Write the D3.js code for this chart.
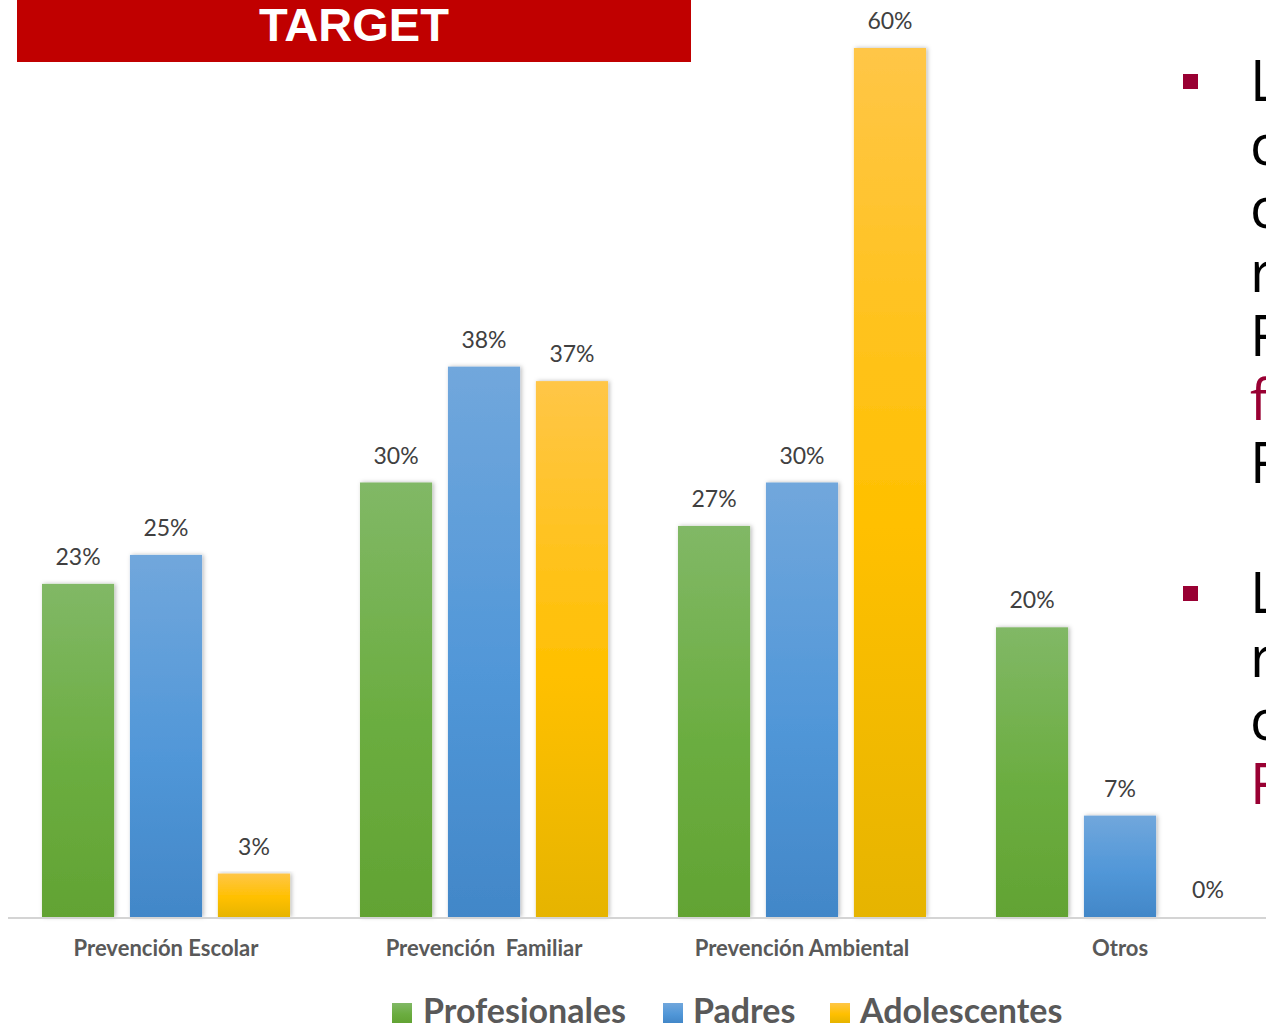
<!DOCTYPE html>
<html>
<head>
<meta charset="utf-8">
<script src="https://cdn.jsdelivr.net/npm/d3@7"></script>
<style>
  html, body { margin: 0; padding: 0; background: #fff; overflow: hidden; }
  svg { display: block; }
</style>
</head>
<body>
<svg id="chart" width="1266" height="1026"></svg>
<script>
// Categories, series and values (percent)
const categories = ["Prevención Escolar", "Prevención  Familiar", "Prevención Ambiental", "Otros"];
const seriesNames = ["Profesionales", "Padres", "Adolescentes"];
const profesionales = [23, 30, 27, 20];
const padres = [25, 38, 30, 7];
const adolescentes = [3, 37, 60, 0];
const seriesValues = [profesionales, padres, adolescentes];

// Side text: first letters of the two bullet paragraphs
const bullet1Lines = [["L", "#000"], ["c", "#000"], ["c", "#000"], ["r", "#000"], ["F", "#000"], ["f", "#990033"], ["F", "#000"]];
const bullet2Lines = [["L", "#000"], ["r", "#000"], ["c", "#000"], ["F", "#990033"]];

const svg = d3.select("#chart");
const defs = svg.append("defs");

const gradStops = [
  [["0%", "#81B866"], ["55%", "#6BAD40"], ["100%", "#62A333"]],
  [["0%", "#71A7DC"], ["55%", "#5197D8"], ["100%", "#4287C8"]],
  [["0%", "#FFC647"], ["55%", "#FFC000"], ["100%", "#E6B400"]]
];
gradStops.forEach((stops, i) => {
  const g = defs.append("linearGradient").attr("id", "grad" + i)
    .attr("x1", 0).attr("y1", 0).attr("x2", 0).attr("y2", 1);
  stops.forEach(s => g.append("stop").attr("offset", s[0]).attr("stop-color", s[1]));
});
const shadow = defs.append("filter").attr("id", "barShadow")
  .attr("x", "-20%").attr("y", "-5%").attr("width", "140%").attr("height", "110%");
shadow.append("feDropShadow").attr("dx", 1.5).attr("dy", 0).attr("stdDeviation", 2)
  .attr("flood-color", "#000").attr("flood-opacity", 0.28);

// Title banner
svg.append("rect").attr("x", 17).attr("y", 0).attr("width", 674).attr("height", 62).attr("fill", "#C00000");
svg.append("text").attr("x", 354).attr("y", 41).attr("text-anchor", "middle")
  .attr("font-family", "Liberation Sans, Arial, sans-serif").attr("font-weight", "bold")
  .attr("font-size", 47).attr("fill", "#fff").attr("textLength", 190).attr("lengthAdjust", "spacingAndGlyphs")
  .text("TARGET");

// Scales
const baseY = 917;
const y = d3.scaleLinear().domain([0, 60]).range([baseY, 48]);
const x0 = d3.scaleBand().domain(categories).range([7, 1279]).paddingInner(0.22).paddingOuter(0.11);
const x1 = d3.scaleBand().domain(d3.range(seriesNames.length)).range([0, x0.bandwidth()]).paddingInner(0.18).paddingOuter(0);

// Bars with value labels
const groups = svg.append("g").selectAll("g").data(categories).join("g")
  .attr("transform", d => `translate(${x0(d)},0)`);

groups.each(function(cat, ci) {
  const g = d3.select(this);
  seriesValues.forEach((vals, si) => {
    const v = vals[ci];
    if (v > 0) {
      g.append("rect")
        .attr("x", x1(si)).attr("width", x1.bandwidth())
        .attr("y", y(v)).attr("height", baseY - y(v))
        .attr("fill", `url(#grad${si})`)
        .attr("filter", "url(#barShadow)");
    }
    g.append("text")
      .attr("x", x1(si) + x1.bandwidth() / 2)
      .attr("y", y(v) - 19)
      .attr("text-anchor", "middle")
      .attr("font-family", "Lato, sans-serif").attr("font-size", 23)
      .attr("fill", "#404040")
      .text(v + "%");
  });
});

// Category axis
const xAxis = svg.append("g").attr("transform", `translate(0,${baseY + 1})`)
  .call(d3.axisBottom(x0).tickSize(0).tickPadding(0));
xAxis.select(".domain").remove();
xAxis.append("line").attr("x1", 8).attr("x2", 1266).attr("y1", 0).attr("y2", 0)
  .attr("stroke", "#D4D4D4").attr("stroke-width", 2);
xAxis.selectAll(".tick text")
  .attr("y", 38)
  .attr("dy", 0)
  .attr("font-family", "Lato, sans-serif").attr("font-weight", "bold")
  .attr("font-size", 22).attr("fill", "#595959")
  .style("white-space", "pre")
  .attr("xml:space", "preserve");

// Legend
const legendItems = [
  { name: seriesNames[0], x: 392, tx: 423 },
  { name: seriesNames[1], x: 663, tx: 693 },
  { name: seriesNames[2], x: 830, tx: 860 }
];
const legend = svg.append("g");
legendItems.forEach((it, i) => {
  legend.append("rect").attr("x", it.x).attr("y", 1003).attr("width", 20).attr("height", 20)
    .attr("fill", `url(#grad${i})`);
  legend.append("text").attr("x", it.tx).attr("y", 1023)
    .attr("font-family", "Lato, sans-serif").attr("font-weight", "bold")
    .attr("font-size", 34).attr("fill", "#595959").text(it.name);
});

// Side bullets
function drawBullet(lines, bulletY, firstBaseline) {
  svg.append("rect").attr("x", 1183).attr("y", bulletY).attr("width", 15).attr("height", 15).attr("fill", "#990033");
  lines.forEach((l, i) => {
    svg.append("text").attr("x", 1250).attr("y", firstBaseline + i * 63.7)
      .attr("font-family", "Open Sans, sans-serif").attr("font-size", 56)
      .attr("fill", l[1]).text(l[0]);
  });
}
drawBullet(bullet1Lines, 74, 101);
drawBullet(bullet2Lines, 586, 613);
</script>
</body>
</html>
